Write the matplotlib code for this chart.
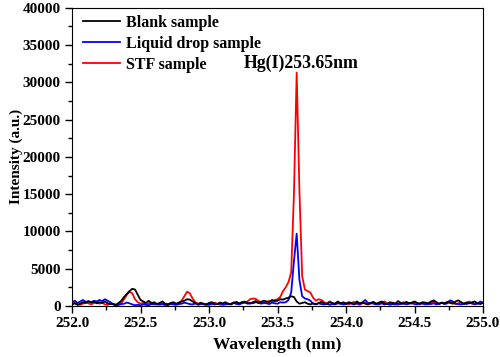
import numpy as np
import matplotlib
matplotlib.use("Agg")
import matplotlib.pyplot as plt
from matplotlib.ticker import MultipleLocator

wavelength = np.round(np.arange(252.0, 255.0001, 0.02), 2)

stf = [650, 400, 200, 150, 300, 500, 350, 200, 400, 550,
       300, 450, 200, 150, 350, 250, 100, 200, 400, 900,
       1500, 1900, 1700, 900, 500, 300, 400, 200, 350, 500,
       300, 150, 400, 250, 100, 300, 200, 400, 250, 350,
       700, 1300, 1900, 1700, 1000, 500, 300, 450, 200, 150,
       300, 200, 450, 300, 150, 250, 400, 200, 300, 500,
       250, 300, 550, 400, 600, 900, 1000, 950, 700, 500,
       350, 500, 700, 600, 800, 900, 1200, 2000, 2500, 3200,
       4500, 15000, 31300, 15500, 4000, 2200, 2000, 1800, 1100, 700,
       900, 800, 500, 350, 600, 400, 250, 450, 300, 500,
       350, 200, 400, 550, 300, 150, 350, 450, 250, 300,
       500, 300, 200, 400, 600, 350, 250, 450, 300, 150,
       350, 500, 250, 400, 300, 550, 350, 200, 450, 300,
       200, 400, 600, 350, 250, 450, 300, 500, 700, 400,
       250, 350, 500, 300, 450, 600, 300, 200, 400, 350,
       500]

liquid = [500, 700, 400, 600, 800, 550, 650, 500, 700, 600,
          800, 650, 900, 700, 500, 200, 100, 150, 250, 300,
          450, 350, 200, 100, 150, 100, 200, 150, 100, 250,
          200, 300, 150, 250, 200, 100, 300, 200, 150, 250,
          300, 450, 350, 250, 200, 350, 150, 250, 300, 200,
          150, 300, 200, 250, 350, 150, 200, 300, 250, 400,
          300, 200, 350, 500, 300, 400, 350, 500, 450, 300,
          400, 350, 250, 450, 350, 300, 500, 450, 500, 800,
          1800, 6000, 9700, 3500, 1300, 1000, 900, 700, 300, 200,
          350, 250, 200, 300, 150, 250, 200, 350, 300, 200,
          250, 400, 300, 200, 350, 250, 500, 800, 400, 400,
          300, 200, 250, 350, 200, 300, 150, 250, 200, 300,
          250, 350, 200, 300, 400, 250, 200, 350, 300, 200,
          300, 250, 350, 200, 300, 400, 250, 350, 750, 600,
          300, 250, 200, 300, 250, 400, 350, 250, 300, 600,
          400]

blank = [200, 350, 150, 300, 500, 400, 600, 450, 550, 350,
         500, 400, 600, 350, 250, 300, 150, 400, 700, 1200,
         1600, 2000, 2300, 2200, 1500, 800, 600, 400, 700, 300,
         500, 250, 400, 600, 300, 200, 400, 500, 300, 450,
         600, 700, 900, 850, 600, 350, 250, 400, 300, 200,
         400, 500, 300, 250, 450, 350, 500, 300, 200, 400,
         550, 350, 450, 600, 400, 300, 500, 650, 400, 550,
         700, 600, 500, 800, 650, 700, 900, 850, 1000, 1100,
         1300, 1200, 600, 300, 400, 500, 300, 200, 350, 250,
         400, 550, 350, 250, 500, 400, 300, 600, 350, 450,
         300, 500, 400, 250, 600, 350, 450, 300, 200, 400,
         550, 300, 450, 600, 350, 250, 500, 400, 300, 650,
         400, 300, 550, 350, 450, 600, 400, 300, 500, 450,
         350, 600, 750, 500, 300, 450, 350, 550, 400, 300,
         600, 750, 500, 300, 450, 350, 500, 600, 350, 250,
         400]

labels = ["Blank sample", "Liquid drop sample", "STF sample"]
annotation = "Hg(I)253.65nm"

plt.rcParams['font.family'] = ['Liberation Serif', 'DejaVu Serif']
plt.rcParams['font.weight'] = 'bold'

fig = plt.figure(figsize=(5.0, 3.57), dpi=100)
ax = fig.add_axes([0.144, 0.143, 0.822, 0.835])

l3, = ax.plot(wavelength, stf, color='red', lw=1.3, label=labels[2])
l2, = ax.plot(wavelength, liquid, color='blue', lw=1.3, label=labels[1])
l1, = ax.plot(wavelength, blank, color='black', lw=1.3, label=labels[0])

ax.set_xlim(252.0, 255.0)
ax.set_ylim(0, 40000)
ax.xaxis.set_major_locator(MultipleLocator(0.5))
ax.xaxis.set_minor_locator(MultipleLocator(0.25))
ax.yaxis.set_major_locator(MultipleLocator(5000))
ax.yaxis.set_minor_locator(MultipleLocator(2500))
ax.xaxis.set_major_formatter(matplotlib.ticker.FormatStrFormatter('%.1f'))
ax.tick_params(which='major', direction='out', length=5, width=1, labelsize=11, pad=3)
ax.tick_params(which='minor', direction='out', length=3, width=1)
ax.tick_params(top=False, right=False)
for lab in ax.get_xticklabels() + ax.get_yticklabels():
    lab.set_fontweight('bold')

ax.set_xlabel("Wavelength (nm)", fontsize=12.5, fontweight='bold', labelpad=5)
ax.set_ylabel("Intensity (a.u.)", fontsize=11, fontweight='bold', labelpad=0)

leg = ax.legend(handles=[l1, l2, l3], loc='upper left', frameon=False,
                bbox_to_anchor=(0.01, 1.0),
                prop={'weight': 'bold', 'size': 11.5}, handlelength=2.3,
                handletextpad=0.35, labelspacing=0.3, borderaxespad=0.25,
                borderpad=0.2)

ax.text(253.67, 32600, annotation, ha='center', va='center',
        fontsize=12.8, fontweight='bold')

fig.savefig("out.png", dpi=100)
